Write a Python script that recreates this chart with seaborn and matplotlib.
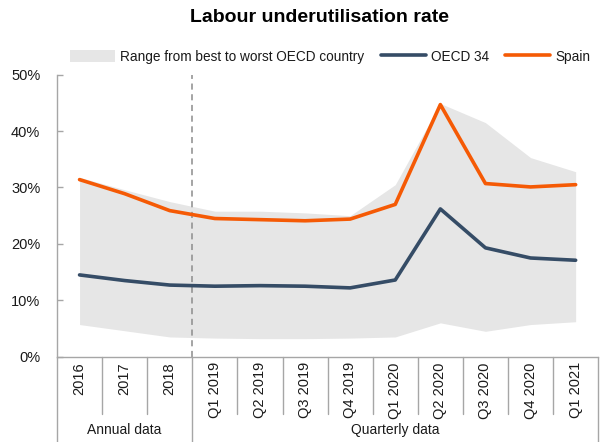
import numpy as np
import pandas as pd
import seaborn as sns
import matplotlib.pyplot as plt
from matplotlib.lines import Line2D
from matplotlib.patches import Patch
from matplotlib.ticker import FuncFormatter

# Labour underutilisation rate, % of extended labour force
periods = ["2016", "2017", "2018", "Q1 2019", "Q2 2019", "Q3 2019", "Q4 2019",
           "Q1 2020", "Q2 2020", "Q3 2020", "Q4 2020", "Q1 2021"]
spain = [31.4, 28.9, 25.9, 24.5, 24.3, 24.1, 24.4, 27.0, 44.7, 30.7, 30.1, 30.5]
oecd34 = [14.5, 13.5, 12.7, 12.5, 12.6, 12.5, 12.2, 13.6, 26.2, 19.3, 17.5, 17.1]
range_low = [5.7, 4.6, 3.5, 3.3, 3.2, 3.2, 3.3, 3.5, 6.0, 4.5, 5.7, 6.2]
range_high = [31.8, 29.6, 27.5, 25.8, 25.8, 25.5, 25.0, 30.5, 44.9, 41.5, 35.3, 32.8]
groups = ["Annual data", "Quarterly data"]
group_sizes = [3, 9]
y_ticks = [0, 10, 20, 30, 40, 50]

ORANGE = "#F55A05"
NAVY = "#354C66"
RANGE_GREY = "#E6E6E6"
AXIS_GREY = "#A6A6A6"
TEXT = "#1a1a1a"

sns.set_theme(style="white")
plt.rcParams["font.family"] = ["Liberation Sans Narrow", "Liberation Sans", "DejaVu Sans"]

df = pd.DataFrame({
    "pos": np.arange(len(periods)),
    "period": periods,
    "OECD 34": oecd34,
    "Spain": spain,
    "low": range_low,
    "high": range_high,
})
long = df.melt(id_vars=["pos", "period"], value_vars=["OECD 34", "Spain"],
               var_name="series", value_name="rate")

fig = plt.figure(figsize=(6.0, 4.42), dpi=100)
ax = fig.add_axes([0.095, 0.193, 0.902, 0.638])

ax.fill_between(df["pos"], df["low"], df["high"], color=RANGE_GREY, lw=0, zorder=1)
sns.lineplot(data=long, x="pos", y="rate", hue="series",
             palette={"OECD 34": NAVY, "Spain": ORANGE},
             lw=2.6, legend=False, ax=ax, zorder=3)

n = len(periods)
ax.set_xlim(-0.5, n - 0.5)
ax.set_ylim(0, 50)
ax.set_yticks(y_ticks)
ax.yaxis.set_major_formatter(FuncFormatter(lambda v, _: f"{v:.0f}%"))
ax.set_xticks(df["pos"])
ax.set_xticklabels(periods, rotation=90)
ax.set_xlabel("")
ax.set_ylabel("")

for side in ("top", "right"):
    ax.spines[side].set_visible(False)
for side in ("left", "bottom"):
    ax.spines[side].set_color(AXIS_GREY)
    ax.spines[side].set_linewidth(1.0)

ax.tick_params(axis="y", direction="in", length=4, width=1, color=AXIS_GREY,
               pad=12, labelsize=10.5, labelcolor=TEXT, left=True)
ax.tick_params(axis="x", length=0, pad=4, labelsize=10.5, labelcolor=TEXT)

# category separators below the axis, and longer group separators
xform = ax.get_xaxis_transform()
group_edges = np.concatenate([[0], np.cumsum(group_sizes)]) - 0.5
for b in np.arange(n + 1) - 0.5:
    if np.any(np.isclose(b, group_edges)):
        ax.plot([b, b], [0, -0.31], transform=xform, color=AXIS_GREY, lw=1, clip_on=False)
    else:
        ax.plot([b, b], [0, -0.203], transform=xform, color=AXIS_GREY, lw=1, clip_on=False)

for i, name in enumerate(groups):
    centre = (group_edges[i] + group_edges[i + 1]) / 2
    ax.text(centre, -0.259, name, transform=xform, ha="center", va="center",
            fontsize=10, color=TEXT)

# boundary between annual and quarterly data
ax.axvline(group_edges[1], ymin=0, ymax=1, color="#8C8C8C", lw=1.1,
           ls=(0, (4, 3)), zorder=2)

handles = [
    Patch(facecolor=RANGE_GREY, edgecolor="none", label="Range from best to worst OECD country"),
    Line2D([0], [0], color=NAVY, lw=2.6, label="OECD 34"),
    Line2D([0], [0], color=ORANGE, lw=2.6, label="Spain"),
]
ax.legend(handles=handles, loc="center", bbox_to_anchor=(0.505, 1.064), ncol=3,
          frameon=False, fontsize=9.8, handlelength=3.3, handleheight=0.9,
          columnspacing=1.2, handletextpad=0.4, borderaxespad=0,
          labelcolor=TEXT)

fig.text(0.532, 1 - 18 / 442, "Labour underutilisation rate", ha="center", va="center",
         fontsize=14, fontweight="bold", color="#000000")

fig.savefig("out.png", dpi=100)
